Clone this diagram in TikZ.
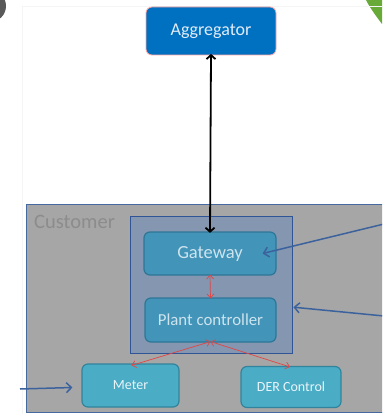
\documentclass[tikz,border=0pt]{standalone}
\usepackage{fontspec}
\setmainfont{Carlito}
\usetikzlibrary{arrows.meta}

\definecolor{aggfill}{RGB}{0,112,192}
\definecolor{aggtext}{RGB}{225,236,248}
\definecolor{custfill}{RGB}{166,166,166}
\definecolor{custtext}{RGB}{140,140,140}
\definecolor{frameblue}{RGB}{70,105,160}
\definecolor{innerfill}{RGB}{132,150,176}
\definecolor{innerline}{RGB}{47,85,151}
\definecolor{unitfill}{RGB}{67,148,185}
\definecolor{unitline}{RGB}{46,118,150}
\definecolor{unittext}{RGB}{205,228,238}
\definecolor{devfill}{RGB}{75,172,198}
\definecolor{devline}{RGB}{50,132,156}
\definecolor{devtext}{RGB}{232,244,248}
\definecolor{linkred}{RGB}{225,70,70}
\definecolor{linkblue}{RGB}{60,98,158}
\definecolor{leafgreen}{RGB}{104,170,56}

\tikzset{
  box/.style={rectangle, rounded corners=6pt, inner sep=0pt, line width=1.2pt},
  aggbox/.style={box, fill=aggfill, draw=red!35, line width=0.8pt, text=aggtext, font=\fontsize{18}{20}\selectfont},
  unitbox/.style={box, fill=unitfill, draw=unitline, text=unittext},
  devbox/.style={box, fill=devfill, draw=devline, text=devtext, font=\fontsize{14}{16}\selectfont},
  mainlink/.style={line width=1.8pt, black, {Straight Barb[length=4pt,width=9pt]}-{Straight Barb[length=4pt,width=9pt]}},
  redlink/.style={line width=0.7pt, linkred, {Straight Barb[length=4pt,width=7pt]}-{Straight Barb[length=4pt,width=7pt]}},
  bluelink/.style={line width=1.5pt, linkblue, -{Straight Barb[length=5pt,width=10pt]}},
}

\begin{document}
\begin{tikzpicture}[x=1pt,y=-1pt]
\useasboundingbox (0,0) rectangle (382,414);
\clip (0,0) rectangle (382,414);
\fill[white] (0,0) rectangle (382,414);

% page decorations
\fill[black!65] (-10,6) circle (16);
\fill[leafgreen] (366,0) -- (382,0) -- (382,24) .. controls (376,16) and (370,8) .. cycle;
\draw[black!4, line width=0.6pt] (22,414) -- (22,6) -- (382,6);

% customer premises
\node[rectangle, fill=custfill, draw=frameblue, line width=1.4pt, minimum width=370pt, minimum height=208pt, anchor=north west, inner sep=0pt] (customer) at (26,204) {};
\node[anchor=west, text=custtext, font=\fontsize{20.5}{22}\selectfont, inner sep=0pt] (custlabel) at (34,222) {Customer};

% gateway / plant controller enclosure
\node[rectangle, fill=innerfill, draw=innerline, line width=1.4pt, minimum width=162pt, minimum height=137pt, anchor=north west, inner sep=0pt] (site) at (130,216) {};

% units
\node[aggbox, minimum width=130pt, minimum height=48pt] (agg) at (211,31) {Aggregator};
\node[unitbox, minimum width=132pt, minimum height=43pt, font=\fontsize{18.5}{20}\selectfont] (gw) at (210,253.5) {Gateway};
\node[unitbox, minimum width=131pt, minimum height=44pt, font=\fontsize{16.8}{18}\selectfont] (plant) at (210.5,320) {Plant controller};
\node[devbox, minimum width=97pt, minimum height=43pt] (meter) at (130.5,385.5) {Meter};
\node[devbox, minimum width=100pt, minimum height=41pt] (der) at (291,387) {DER Control};

% links
\draw[mainlink] ([yshift=1.5pt]agg.south) -- ([yshift=-1.5pt]gw.north);
\draw[redlink] ([yshift=1pt]gw.south) -- ([yshift=-1pt]plant.north);
\draw[redlink] ([yshift=1pt]plant.south) -- ([xshift=1pt,yshift=-2pt]meter.north);
\draw[redlink] ([yshift=1pt]plant.south) -- ([xshift=-1pt,yshift=-1pt]der.north);

% external inputs
\coordinate (inA) at (384,224);
\coordinate (inB) at (384,316);
\coordinate (inC) at (20,389);
\draw[bluelink] (inA) -- ([xshift=-14pt]gw.east);
\draw[bluelink] (inB) -- ([yshift=-22pt]site.east);
\draw[bluelink] (inC) -- ([xshift=-9pt,yshift=-2pt]meter.west);
\end{tikzpicture}
\end{document}
